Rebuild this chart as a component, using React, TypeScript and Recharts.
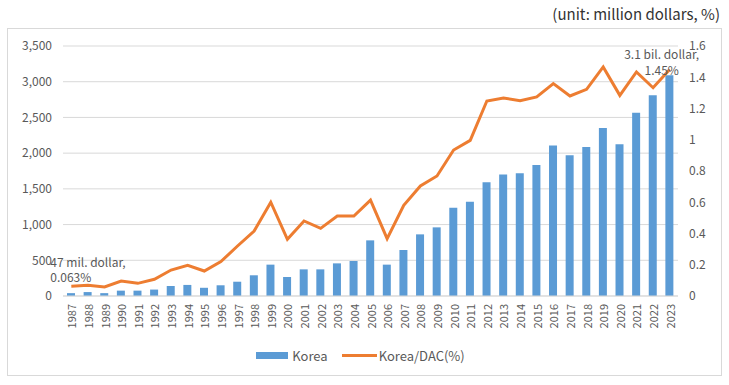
import {
  ComposedChart,
  Bar,
  Line,
  XAxis,
  YAxis,
  CartesianGrid,
  Legend,
} from 'recharts';

const years = [
  '1987', '1988', '1989', '1990', '1991', '1992', '1993', '1994', '1995', '1996',
  '1997', '1998', '1999', '2000', '2001', '2002', '2003', '2004', '2005', '2006',
  '2007', '2008', '2009', '2010', '2011', '2012', '2013', '2014', '2015', '2016',
  '2017', '2018', '2019', '2020', '2021', '2022', '2023',
];

// million dollars
const korea = [
  40, 55, 40, 75, 75, 90, 140, 155, 115, 150,
  200, 290, 439, 266, 373, 373, 457, 490, 779, 439,
  644, 863, 961, 1237, 1321, 1592, 1700, 1718, 1835, 2107,
  1971, 2087, 2351, 2125, 2566, 2809, 3090,
];

// Korea/DAC (%)
const koreaDac = [
  0.063, 0.068, 0.058, 0.096, 0.081, 0.107, 0.166, 0.196, 0.16, 0.22,
  0.32, 0.416, 0.6, 0.363, 0.48, 0.433, 0.512, 0.512, 0.614, 0.367,
  0.58, 0.704, 0.768, 0.934, 0.996, 1.248, 1.267, 1.25, 1.274, 1.359,
  1.28, 1.323, 1.466, 1.284, 1.434, 1.333, 1.45,
];

const leftTicks = [0, 500, 1000, 1500, 2000, 2500, 3000, 3500];
const rightTicks = [0, 0.2, 0.4, 0.6, 0.8, 1, 1.2, 1.4, 1.6];

const data = years.map((year, i) => ({
  year,
  korea: korea[i],
  ratio: koreaDac[i],
}));

const FONT = '"Noto Sans CJK KR", "Noto Sans", sans-serif';
const BLUE = '#5B9BD5';
const ORANGE = '#ED7D31';
const GREY = '#595959';

const YearTick = ({ x, y, payload }: any) => (
  <text
    x={x}
    y={y}
    transform={`rotate(-90, ${x}, ${y})`}
    textAnchor="end"
    dominantBaseline="central"
    fontSize={11}
    fill={GREY}
    fontFamily={FONT}
  >
    {payload.value}
  </text>
);

const EndLabel = ({ x, y, index }: any) => {
  if (index === 0) {
    return (
      <g fontFamily={FONT} fontSize={12} fill={GREY}>
        <text x={x - 21} y={y - 25} dominantBaseline="central">47 mil. dollar,</text>
        <text x={x - 21} y={y - 10} dominantBaseline="central">0.063%</text>
      </g>
    );
  }
  if (index === years.length - 1) {
    return (
      <g fontFamily={FONT} fontSize={12} fill={GREY} textAnchor="middle">
        <text x={x - 8} y={y - 16} dominantBaseline="central">3.1 bil. dollar,</text>
        <text x={x - 8} y={y} dominantBaseline="central">1.45%</text>
      </g>
    );
  }
  return null;
};

const LegendContent = () => (
  <div
    style={{
      height: 20,
      display: 'flex',
      justifyContent: 'center',
      alignItems: 'center',
      fontFamily: FONT,
      fontSize: 13,
      color: GREY,
    }}
  >
    <span style={{ display: 'inline-block', width: 32, height: 7, background: BLUE, marginRight: 4 }} />
    <span style={{ marginRight: 14 }}>Korea</span>
    <span style={{ display: 'inline-block', width: 35, height: 3, background: ORANGE, marginRight: 2 }} />
    <span>Korea/DAC(%)</span>
  </div>
);

export default function App() {
  return (
    <div style={{ position: 'absolute', left: 0, top: 0, width: 729, height: 385, background: '#fff' }}>
      <div
        style={{
          position: 'absolute',
          right: 9,
          top: 3,
          fontFamily: FONT,
          fontSize: 15,
          color: '#333',
        }}
      >
        (unit: million dollars, %)
      </div>
      <div
        style={{
          position: 'absolute',
          left: 7,
          top: 28,
          width: 713,
          height: 346,
          border: '1px solid #d9d9d9',
        }}
      >
        <ComposedChart
          width={713}
          height={346}
          data={data}
          margin={{ top: 17, right: 8, left: 0, bottom: 10 }}
        >
          <CartesianGrid vertical={false} stroke="#d9d9d9" yAxisId="left" />
          <XAxis
            dataKey="year"
            interval={0}
            height={49}
            tick={<YearTick />}
            tickLine={false}
            axisLine={{ stroke: '#d9d9d9' }}
          />
          <YAxis
            yAxisId="left"
            width={55}
            domain={[0, 3500]}
            ticks={leftTicks}
            tickFormatter={(v: number) => v.toLocaleString('en-US')}
            tick={{ fontSize: 12, fill: GREY, fontFamily: FONT }}
            tickLine={false}
            axisLine={false}
            tickMargin={5}
          />
          <YAxis
            yAxisId="right"
            orientation="right"
            width={35}
            domain={[0, 1.6]}
            ticks={rightTicks}
            tick={{ fontSize: 12, fill: GREY, fontFamily: FONT, textAnchor: 'start' }}
            tickLine={false}
            axisLine={false}
            tickMargin={5}
          />
          <Bar yAxisId="left" dataKey="korea" name="Korea" fill={BLUE} barSize={8} isAnimationActive={false} />
          <Line
            yAxisId="right"
            dataKey="ratio"
            name="Korea/DAC(%)"
            stroke={ORANGE}
            strokeWidth={3}
            dot={false}
            isAnimationActive={false}
            label={<EndLabel />}
          />
          <Legend verticalAlign="bottom" content={<LegendContent />} />
        </ComposedChart>
      </div>
    </div>
  );
}
